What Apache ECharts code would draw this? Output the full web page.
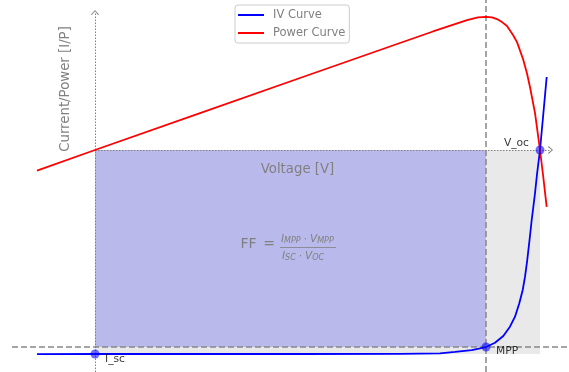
<!DOCTYPE html>
<html>
<head>
<meta charset="utf-8">
<script src="https://cdn.jsdelivr.net/npm/echarts/dist/echarts.min.js"></script>
<style>
html,body{margin:0;padding:0;background:#ffffff;}
#chart{width:569px;height:372px;}
</style>
</head>
<body>
<div id="chart"></div>
<script>
// ---- data ----
const seriesNames = ['IV Curve', 'Power Curve'];
const axisTitles = ['Voltage [V]', 'Current/Power [I/P]'];

const ivVoltage = [-0.0782, 0, 0.1416, 0.2764, 0.4112, 0.4652, 0.4854, 0.5079, 0.5272, 0.5393, 0.5505, 0.5595, 0.5663, 0.5721, 0.5767, 0.5798, 0.5825, 0.5845, 0.5865, 0.5888, 0.5910, 0.5933, 0.5960, 0.6, 0.6041, 0.6090];
const ivCurrent = [-1.001, -1.0, -1.0, -1.0, -0.999, -0.9966, -0.990, -0.981, -0.9657, -0.9446, -0.9118, -0.8662, -0.8172, -0.7515, -0.6863, -0.6211, -0.549, -0.4853, -0.4216, -0.3431, -0.2794, -0.2108, -0.1176, 0, 0.1618, 0.3578];

const powerVoltage = [-0.0782, 0, 0.1416, 0.2764, 0.4112, 0.4557, 0.5016, 0.5164, 0.5272, 0.5353, 0.5420, 0.5488, 0.5555, 0.5636, 0.5690, 0.5771, 0.5825, 0.5865, 0.5933, 0.6, 0.6041, 0.6090];
const powerValue = [-0.1015, 0, 0.181, 0.353, 0.5245, 0.581, 0.637, 0.650, 0.653, 0.6505, 0.642, 0.627, 0.608, 0.564, 0.529, 0.446, 0.375, 0.309, 0.181, 0, -0.1225, -0.279];

const vOc = 0.6;
const iSc = -1.0;
const vMpp = 0.5272;
const iMpp = -0.9657;

const keyPointNames = ['I_sc', 'MPP', 'V_oc'];
const keyPointV = [0, vMpp, vOc];
const keyPointI = [iSc, iMpp, 0];

// axis extents (hidden axes)
const xRange = [-0.1119, 0.6391];
const yRange = [-1.0882, 0.7353];
const vAxisTop = 0.674;      // end of the vertical arrow
const hAxisEnd = 0.6142;     // end of the horizontal arrow

// ---- chart ----
const FONT = '"DejaVu Sans", sans-serif';
const GRAY = '#808080';
const chevron = 'path://M0,6 L4,0 L8,6 L7.1,6.7 L4,1.8 L0.9,6.7 Z';

const labelStyles = [
  {align: 'left', verticalAlign: 'middle', offset: [10, 5]},
  {align: 'left', verticalAlign: 'middle', offset: [10, 4]},
  {align: 'right', verticalAlign: 'middle', offset: [-11, -7]}
];

const richFormula = {
  i: {fontSize: 10.5, fontStyle: 'italic', fontFamily: FONT, color: GRAY, lineHeight: 13},
  s: {fontSize: 8, fontStyle: 'italic', fontFamily: FONT, color: GRAY, lineHeight: 10, height: 10, verticalAlign: 'bottom'},
  d: {fontSize: 10.5, fontFamily: FONT, color: GRAY, lineHeight: 13, padding: [0, 3, 0, 3]}
};

const chart = echarts.init(document.getElementById('chart'), null, {renderer: 'canvas'});

const option = {
  animation: false,
  backgroundColor: '#ffffff',
  grid: {left: 12, right: 0, top: 0, bottom: 0, containLabel: false},
  xAxis: {type: 'value', min: xRange[0], max: xRange[1], show: false, splitLine: {show: false}},
  yAxis: {type: 'value', min: yRange[0], max: yRange[1], show: false, splitLine: {show: false}},
  legend: {
    data: seriesNames,
    orient: 'vertical',
    left: 235,
    top: 5,
    icon: 'rect',
    itemWidth: 26,
    itemHeight: 2,
    itemGap: 4,
    padding: [3, 4, 3, 3],
    backgroundColor: 'rgba(255,255,255,0.85)',
    borderColor: '#cccccc',
    borderWidth: 1,
    borderRadius: 3,
    textStyle: {color: GRAY, fontSize: 11.5, fontFamily: FONT, lineHeight: 14, padding: [0, 0, 0, 4]}
  },
  graphic: {
    elements: [
      {type: 'text', x: 297.5, y: 169.5, silent: true, z: 100,
       style: {text: axisTitles[0], fill: GRAY, font: '13.3px ' + FONT, textAlign: 'center', textVerticalAlign: 'middle'}},
      {type: 'text', x: 65.5, y: 89, rotation: Math.PI / 2, silent: true, z: 100,
       style: {text: axisTitles[1], fill: GRAY, font: '13.3px ' + FONT, textAlign: 'center', textVerticalAlign: 'middle'}},
      {type: 'text', x: 240.5, y: 244.3, silent: true, z: 100,
       style: {text: 'FF', fill: GRAY, font: '14px ' + FONT, textAlign: 'left', textVerticalAlign: 'middle'}},
      {type: 'text', x: 269, y: 244.3, silent: true, z: 100,
       style: {text: '=', fill: GRAY, font: '14px ' + FONT, textAlign: 'center', textVerticalAlign: 'middle'}},
      {type: 'line', silent: true, z: 100, shape: {x1: 280, y1: 247.5, x2: 336, y2: 247.5}, style: {stroke: GRAY, lineWidth: 0.8}},
      {type: 'text', x: 281, y: 239.7, silent: true, z: 100,
       style: {text: '{i|I}{s|MPP}{d|·}{i|V}{s|MPP}', fill: GRAY, textAlign: 'left', textVerticalAlign: 'middle', rich: richFormula}},
      {type: 'text', x: 282, y: 256, silent: true, z: 100,
       style: {text: '{i|I}{s|SC}{d|·}{i|V}{s|OC}', fill: GRAY, textAlign: 'left', textVerticalAlign: 'middle', rich: richFormula}}
    ]
  },
  series: [
    {
      name: '_areas', type: 'line', data: [], z: 1, silent: true,
      markArea: {
        silent: true, z: 1,
        data: [
          [{coord: [0, 0], itemStyle: {color: '#e9e9e9'}}, {coord: [vOc, iSc]}],
          [{coord: [0, 0], itemStyle: {color: '#b9b9eb'}}, {coord: [vMpp, iMpp]}]
        ]
      }
    },
    {
      name: '_guides', type: 'line', data: [], z: 2, silent: true,
      markLine: {
        silent: true, z: 2,
        label: {show: false},
        data: [
          [{coord: [xRange[0], iMpp], symbol: 'none', lineStyle: {color: '#888888', width: 1.5, type: [6, 3]}},
           {coord: [xRange[1], iMpp], symbol: 'none'}],
          [{coord: [vMpp, yRange[0]], symbol: 'none', lineStyle: {color: '#888888', width: 1.5, type: [6, 3]}},
           {coord: [vMpp, yRange[1]], symbol: 'none'}],
          [{coord: [0, yRange[0]], symbol: 'none', lineStyle: {color: GRAY, width: 1, type: [1.5, 1.5]}},
           {coord: [0, vAxisTop], symbol: chevron, symbolSize: [8, 5], itemStyle: {color: GRAY}}],
          [{coord: [0, 0], symbol: 'none', lineStyle: {color: GRAY, width: 1, type: [1.5, 1.5]}},
           {coord: [hAxisEnd, 0], symbol: chevron, symbolSize: [8, 5], itemStyle: {color: GRAY}}]
        ]
      }
    },
    {
      name: seriesNames[0], type: 'line', z: 3,
      data: ivVoltage.map((v, i) => [v, ivCurrent[i]]),
      showSymbol: false, symbol: 'none', smooth: false,
      itemStyle: {color: '#0000ff'},
      lineStyle: {color: '#0000ff', width: 1.8}
    },
    {
      name: seriesNames[1], type: 'line', z: 3,
      data: powerVoltage.map((v, i) => [v, powerValue[i]]),
      showSymbol: false, symbol: 'none', smooth: false,
      itemStyle: {color: '#ff0000'},
      lineStyle: {color: '#ff0000', width: 1.8}
    },
    {
      name: '_points', type: 'scatter', z: 4, silent: true,
      symbolSize: 9,
      itemStyle: {color: 'rgba(0,0,255,0.72)'},
      data: keyPointNames.map((n, i) => ({
        name: n,
        value: [keyPointV[i], keyPointI[i]],
        label: Object.assign({
          show: true, position: 'inside', formatter: n,
          color: '#000000', fontSize: 10.7, fontFamily: FONT
        }, labelStyles[i])
      }))
    }
  ]
};

chart.setOption(option);
</script>
</body>
</html>
